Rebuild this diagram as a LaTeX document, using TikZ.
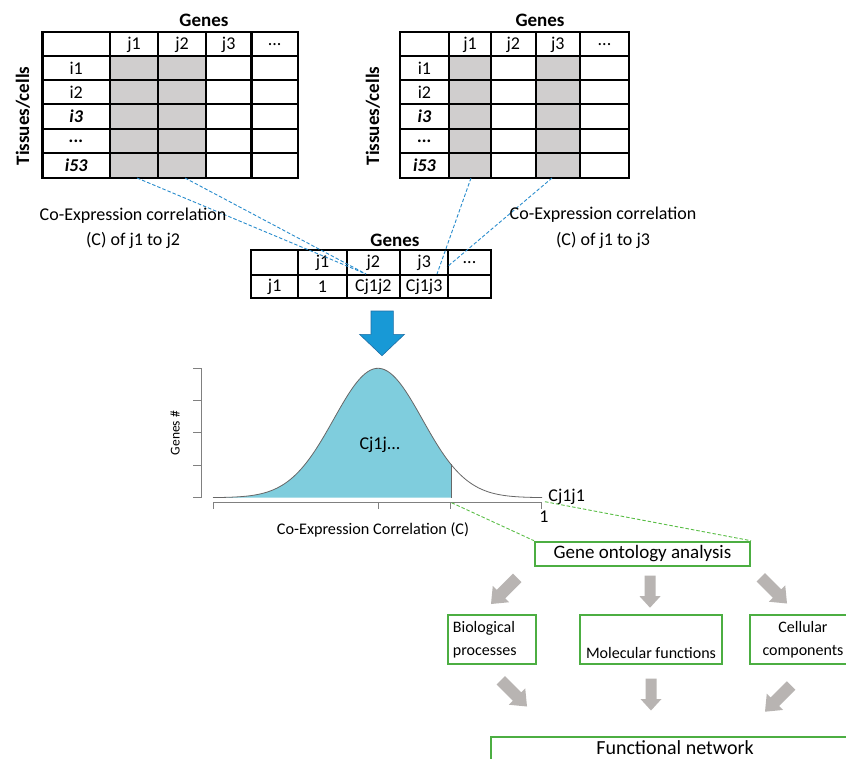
\documentclass[tikz,border=0pt]{standalone}
\usepackage{fontspec}
\setmainfont{Carlito}
\usetikzlibrary{calc}
\definecolor{cellgrey}{RGB}{208,206,206}
\definecolor{bluedash}{RGB}{40,140,205}
\definecolor{greendash}{RGB}{90,190,70}
\definecolor{boxgreen}{RGB}{76,174,66}
\definecolor{arrowgrey}{RGB}{184,180,178}
\definecolor{bigblue}{RGB}{24,153,214}
\definecolor{bigblueedge}{RGB}{30,110,165}
\definecolor{curvefill}{RGB}{127,205,221}
\definecolor{axisgrey}{RGB}{128,128,128}
\tikzset{
  tabline/.style={line width=2.2pt, black},
  celltext/.style={font=\fontsize{18}{20}\selectfont, inner sep=0pt},
  headtext/.style={font=\bfseries\fontsize{19}{21}\selectfont, inner sep=0pt},
  bolditext/.style={font=\bfseries\itshape\fontsize{18}{20}\selectfont, inner sep=0pt},
  notetext/.style={font=\fontsize{18}{20}\selectfont, inner sep=0pt},
  bluedashline/.style={bluedash, line width=0.9pt, dash pattern=on 3.5pt off 2pt},
  greendashline/.style={greendash, line width=0.9pt, dash pattern=on 3.5pt off 2pt},
  gobox/.style={draw=boxgreen, line width=2pt},
  boxtext/.style={font=\fontsize{16}{18}\selectfont, inner sep=0pt},
  axisline/.style={axisgrey, line width=1pt},
  pics/blockarr/.style n args={4}{code={
    \fill[arrowgrey] (-#2,-#1) -- (#2,-#1) -- (#2,-#4) -- (#3,-#4) -- (0,0)
      -- (-#3,-#4) -- (-#2,-#4) -- cycle;}}
}
\begin{document}
\begin{tikzpicture}[x=1pt,y=-1pt]
\useasboundingbox (0,0) rectangle (846,758);
\clip (0,0) rectangle (846,758);
\fill[white] (0,0) rectangle (846,758);

% ---------- left table ----------
\fill[cellgrey] (110,56) rectangle (206,177.7);
\foreach \x in {110,158,206,251.5} \draw[tabline] (\x,32.3) -- (\x,177.7);
\foreach \y in {56,80,104.3,129,153} \draw[tabline] (42.5,\y) -- (298,\y);
\draw[tabline] (42.5,32.3) rectangle (298,177.7);
\node[headtext] (LGenes) at (204,20) {Genes};
\node[headtext, rotate=90] (LTis) at (23,116) {Tissues/cells};
\node[celltext] (Lj1) at (134,44.5) {j1};
\node[celltext] (Lj2) at (182,44.5) {j2};
\node[celltext] (Lj3) at (228.7,44.5) {j3};
\node[celltext] (Ldots) at (274.7,44.5) {...};
\node[celltext] (Li1) at (76.2,68) {i1};
\node[celltext] (Li2) at (76.2,92) {i2};
\node[bolditext] (Li3) at (76.2,116.5) {i3};
\node[bolditext] (Lid) at (76.2,141) {...};
\node[bolditext] (Li53) at (76.2,165.5) {i53};

% ---------- right table ----------
\fill[cellgrey] (449,56) rectangle (491,177.7);
\fill[cellgrey] (535.7,56) rectangle (580,177.7);
\foreach \x in {449,491,535.7,580} \draw[tabline] (\x,32.3) -- (\x,177.7);
\foreach \y in {56,80,104.3,129,153} \draw[tabline] (400,\y) -- (629,\y);
\draw[tabline] (400,32.3) rectangle (629,177.7);
\node[headtext] (RGenes) at (540,20) {Genes};
\node[headtext, rotate=90] (RTis) at (373,116) {Tissues/cells};
\node[celltext] (Rj1) at (470,44.5) {j1};
\node[celltext] (Rj2) at (513.3,44.5) {j2};
\node[celltext] (Rj3) at (557.8,44.5) {j3};
\node[celltext] (Rdots) at (604.5,44.5) {...};
\node[celltext] (Ri1) at (424.5,68) {i1};
\node[celltext] (Ri2) at (424.5,92) {i2};
\node[bolditext] (Ri3) at (424.5,116.5) {i3};
\node[bolditext] (Rid) at (424.5,141) {...};
\node[bolditext] (Ri53) at (424.5,165.5) {i53};

% ---------- middle table ----------
\foreach \x in {298.3,346.7,400,448.3} \draw[tabline] (\x,250) -- (\x,298.3);
\draw[tabline] (251,275) -- (490.7,275);
\draw[tabline] (251,250) rectangle (490.7,298.3);
\node[headtext] (MGenes) at (395,240) {Genes};
\node[celltext] (Mj1) at (322.5,263) {j1};
\node[celltext] (Mj2) at (373.3,263) {j2};
\node[celltext] (Mj3) at (424.2,263) {j3};
\node[celltext] (Mdots) at (469.5,263) {...};
\node[celltext] (Mr) at (274.7,287) {j1};
\node[celltext] (Mone) at (322.5,287) {1};
\node[celltext] (Mc12) at (373.3,287) {Cj1j2};
\node[celltext] (Mc13) at (424.2,287) {Cj1j3};

% ---------- blue dashed connectors ----------
\coordinate (LA) at (137,178);
\coordinate (LB) at (185,178);
\coordinate (RA) at (471,178);
\coordinate (RB) at (552,178);
\coordinate (EL) at (366,274);
\coordinate (ER1) at (437,274);
\coordinate (ER2) at (447,267);
\draw[bluedashline] (LA) -- (EL);
\draw[bluedashline] (LB) -- (EL);
\draw[bluedashline] (RA) -- (ER1);
\draw[bluedashline] (RB) -- (ER2);

\node[notetext] (LN1) at (133,216) {Co-Expression correlation};
\node[notetext] (LN2) at (133,240.5) {(C) of j1 to j2};
\node[notetext] (RN1) at (603,215) {Co-Expression correlation};
\node[notetext] (RN2) at (603,240) {(C) of j1 to j3};

% ---------- big blue arrow ----------
\draw[fill=bigblue, draw=bigblueedge, line width=0.6pt, line join=miter]
  (371,311) -- (393.3,311) -- (393.3,334.3) -- (404.5,334.3) -- (382,355.7)
  -- (359.5,334.3) -- (371,334.3) -- cycle;

% ---------- chart ----------
\fill[curvefill] plot[domain=213:451, samples=80, smooth]
   (\x,{497.7-129.4*exp(-0.5*((\x-378)/44.3)^2)}) -- (451,497.7) -- (213,497.7) -- cycle;
\draw[axisgrey!80!black, line width=0.8pt] plot[domain=213:542, samples=120, smooth]
   (\x,{497.7-129.4*exp(-0.5*((\x-378)/44.3)^2)});
\draw[axisgrey!80!black, line width=0.8pt] (451,{497.7-129.4*exp(-0.5*((451-378)/44.3)^2)}) -- (451,497.7);
\draw[axisline] (201,368.3) -- (201,497.7);
\foreach \y in {368.3,400.5,432.8,465.2,497.7} \draw[axisline] (193,\y) -- (201,\y);
\draw[axisline] (213,502.3) -- (541.7,502.3);
\foreach \x in {213.3,378,450.7,541.7} \draw[axisline] (\x,502.3) -- (\x,509);
\node[font=\fontsize{13.5}{15}\selectfont, rotate=90, inner sep=0pt] (GenesY) at (175,433) {Genes \#};
\node[font=\fontsize{16.2}{18}\selectfont, inner sep=0pt] (XLab) at (373,530) {Co-Expression Correlation (C)};
\node[font=\fontsize{18}{20}\selectfont, inner sep=0pt] (Cj) at (380,445) {Cj1j...};
\node[font=\fontsize{18}{20}\selectfont, inner sep=0pt] (Cjj) at (566.7,496.5) {Cj1j1};
\node[font=\fontsize{18}{20}\selectfont, inner sep=0pt] (One) at (544,517) {1};

% ---------- gene ontology ----------
\node[gobox, minimum width=215pt, minimum height=24.3pt, inner sep=0pt,
  font=\fontsize{19}{21}\selectfont] (GO) at (642.5,553.85) {Gene ontology analysis};
\coordinate (T451) at (451.5,502.7);
\coordinate (T545) at (545,501.7);
\draw[greendashline] (T451) -- (GO.north west);
\draw[greendashline] (T545) -- (GO.north east);

\pic at (491,604) [rotate=-45] {blockarr={37}{6}{11.5}{14}};
\pic at (650,607.7) {blockarr={32}{5.5}{10.5}{11.5}};
\pic at (787,603.5) [rotate=45] {blockarr={37}{6}{11.5}{14}};

\node[gobox, minimum width=87.4pt, minimum height=49pt, inner sep=0pt] (Bio) at (492,639.5) {};
\node[boxtext, anchor=west] (BioT1) at (452.7,628.5) {Biological};
\node[boxtext, anchor=west] (BioT2) at (452.7,652.7) {processes};
\node[gobox, minimum width=142.6pt, minimum height=49pt, inner sep=0pt] (Mol) at (651,639.5) {};
\node[boxtext] (MolT) at (651,652.7) {Molecular functions};
\draw[gobox] (850,615) -- (750,615) -- (750,664) -- (850,664);
\node[boxtext] (CelT1) at (803,627) {Cellular};
\node[boxtext] (CelT2) at (803,651.7) {components};

\pic at (527,706.5) [rotate=45] {blockarr={37}{6}{11.5}{14}};
\pic at (651,710.5) {blockarr={32}{5.5}{10.5}{11.5}};
\pic at (765,711.7) [rotate=-45] {blockarr={37}{6}{11.5}{14}};

\draw[gobox] (850,736.7) -- (490.7,736.7) -- (490.7,770);
\node[font=\fontsize{20}{22}\selectfont, inner sep=0pt] (FN) at (675,747.5) {Functional network};
\end{tikzpicture}
\end{document}
